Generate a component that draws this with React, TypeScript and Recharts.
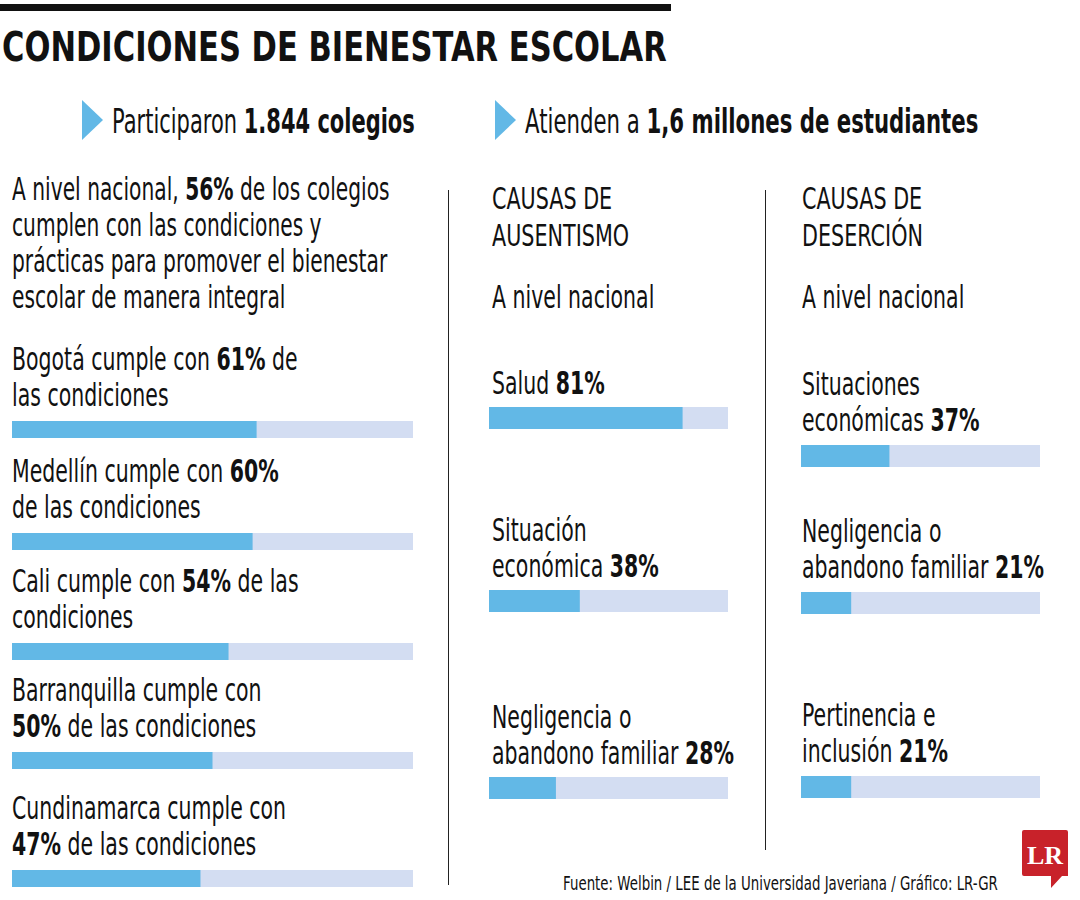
import React from "react";
import { BarChart, Bar, XAxis, YAxis } from "recharts";

// Datos del infográfico
const titulo = "CONDICIONES DE BIENESTAR ESCOLAR";
const resumen = ["Participaron {b}1.844 colegios", "Atienden a {b}1,6 millones de estudiantes"];

const intro = [
  "A nivel nacional, {v} de los colegios",
  "cumplen con las condiciones y",
  "prácticas para promover el bienestar",
  "escolar de manera integral",
];
const introValor = 56;

const regiones = ["Bogotá", "Medellín", "Cali", "Barranquilla", "Cundinamarca"];
const regionesValores = [61, 60, 54, 50, 47];
const regionesTextos = [
  ["Bogotá cumple con {v} de", "las condiciones"],
  ["Medellín cumple con {v}", "de las condiciones"],
  ["Cali cumple con {v} de las", "condiciones"],
  ["Barranquilla cumple con", "{v} de las condiciones"],
  ["Cundinamarca cumple con", "{v} de las condiciones"],
];

const columnas = [
  ["CAUSAS DE", "AUSENTISMO"],
  ["CAUSAS DE", "DESERCIÓN"],
];
const subtitulo = "A nivel nacional";

const ausentismo = ["Salud", "Situación económica", "Negligencia o abandono familiar"];
const ausentismoValores = [81, 38, 28];
const ausentismoTextos = [
  ["Salud {v}"],
  ["Situación", "económica {v}"],
  ["Negligencia o", "abandono familiar {v}"],
];

const desercion = ["Situaciones económicas", "Negligencia o abandono familiar", "Pertinencia e inclusión"];
const desercionValores = [37, 21, 21];
const desercionTextos = [
  ["Situaciones", "económicas {v}"],
  ["Negligencia o", "abandono familiar {v}"],
  ["Pertinencia e", "inclusión {v}"],
];

const fuente = "Fuente: Welbin / LEE de la Universidad Javeriana / Gráfico: LR-GR";

const FONT = "'DejaVu Sans', sans-serif";
const AZUL = "#62b8e6";
const FONDO = "#d3ddf2";
const NEGRO = "#111";

// borde superior de cada barra
const topIzq = [421, 533, 643, 752, 870];
const topAus = [407, 590, 777];
const topDes = [445, 592, 776];

function Linea({ text, valor }: { text: string; valor?: number }) {
  if (text.includes("{v}")) {
    const [a, b] = text.split("{v}");
    return (
      <div>
        {a}
        <b>{valor}%</b>
        {b}
      </div>
    );
  }
  if (text.includes("{b}")) {
    const [a, b] = text.split("{b}");
    return (
      <div>
        {a}
        <b>{b}</b>
      </div>
    );
  }
  return <div>{text}</div>;
}

// texto condensado: se posiciona por la línea base de la primera línea
function Texto({
  lineas, valor, x, base, size = 32, lh = 36, k = 0.64, bold = false,
}: { lineas: string[]; valor?: number; x: number; base: number; size?: number; lh?: number; k?: number; bold?: boolean }) {
  const off = (lh - 1.164 * size) / 2 + 0.928 * size;
  return (
    <div
      style={{
        position: "absolute",
        left: x,
        top: base - off,
        fontSize: size,
        lineHeight: `${lh}px`,
        fontWeight: bold ? 700 : 400,
        whiteSpace: "nowrap",
        transform: `scaleX(${k})`,
        transformOrigin: "0 0",
      }}
    >
      {lineas.map((l, i) => (
        <Linea key={i} text={l} valor={valor} />
      ))}
    </div>
  );
}

function Barra({ name, value, width, height }: { name: string; value: number; width: number; height: number }) {
  return (
    <BarChart
      width={width}
      height={height}
      data={[{ name, value }]}
      layout="vertical"
      margin={{ top: 0, right: 0, bottom: 0, left: 0 }}
      barCategoryGap={0}
    >
      <XAxis type="number" domain={[0, 100]} hide />
      <YAxis type="category" dataKey="name" hide />
      <Bar dataKey="value" fill={AZUL} background={{ fill: FONDO }} isAnimationActive={false} />
    </BarChart>
  );
}

function Bloque({
  lineas, valor, name, textX, left, top, width, height, gap,
}: { lineas: string[]; valor: number; name: string; textX: number; left: number; top: number; width: number; height: number; gap: number }) {
  return (
    <>
      <Texto lineas={lineas} valor={valor} x={textX} base={top - gap - (lineas.length - 1) * 36} />
      <div style={{ position: "absolute", left, top }}>
        <Barra name={name} value={valor} width={width} height={height} />
      </div>
    </>
  );
}

function Flecha({ left, top }: { left: number; top: number }) {
  return (
    <svg style={{ position: "absolute", left, top }} width={22} height={40}>
      <polygon points="0,0 21,20 0,40" fill={AZUL} />
    </svg>
  );
}

export default function App() {
  return (
    <div
      style={{
        position: "absolute",
        left: 0,
        top: 0,
        width: 1080,
        height: 900,
        background: "#fff",
        fontFamily: FONT,
        color: NEGRO,
        overflow: "hidden",
      }}
    >
      <div style={{ position: "absolute", left: 0, top: 4, width: 671, height: 7, background: NEGRO }} />
      <Texto lineas={[titulo]} x={2} base={61} size={40} lh={46} k={0.764} bold />

      <Flecha left={82} top={100} />
      <Texto lineas={[resumen[0]]} x={112} base={133} size={34} lh={40} k={0.617} />
      <Flecha left={495} top={100} />
      <Texto lineas={[resumen[1]]} x={525} base={133} size={34} lh={40} k={0.625} />

      <Texto lineas={intro} valor={introValor} x={12} base={200} k={0.632} />

      {regiones.map((r, i) => (
        <Bloque key={r} name={r} lineas={regionesTextos[i]} valor={regionesValores[i]} textX={12} left={12} top={topIzq[i]} width={401} height={17} gap={15} />
      ))}

      <div style={{ position: "absolute", left: 448, top: 190, width: 1, height: 695, background: "#222" }} />
      <div style={{ position: "absolute", left: 765, top: 190, width: 1, height: 660, background: "#222" }} />

      <Texto lineas={columnas[0]} x={492} base={209} size={30} lh={37} k={0.69} />
      <Texto lineas={[subtitulo]} x={492} base={308} />
      <Texto lineas={columnas[1]} x={802} base={209} size={30} lh={37} k={0.69} />
      <Texto lineas={[subtitulo]} x={802} base={308} />

      {ausentismo.map((c, i) => (
        <Bloque key={c} name={c} lineas={ausentismoTextos[i]} valor={ausentismoValores[i]} textX={492} left={489} top={topAus[i]} width={239} height={22} gap={13} />
      ))}
      {desercion.map((c, i) => (
        <Bloque key={c} name={c} lineas={desercionTextos[i]} valor={desercionValores[i]} textX={802} left={801} top={topDes[i]} width={239} height={22} gap={14} />
      ))}

      <Texto lineas={[fuente]} x={563} base={890} size={20} lh={24} k={0.668} />

      <svg style={{ position: "absolute", left: 1022, top: 830 }} width={48} height={60}>
        <path d="M2,0 H44 Q46,0 46,2 V46 H40 L29,58 L29,46 H2 Q0,46 0,44 V2 Q0,0 2,0 Z" fill="#c8222a" />
        <text x={23} y={34} textAnchor="middle" fill="#fff" fontSize={26} fontWeight={700} fontFamily="'Liberation Serif', serif">
          LR
        </text>
      </svg>
    </div>
  );
}
